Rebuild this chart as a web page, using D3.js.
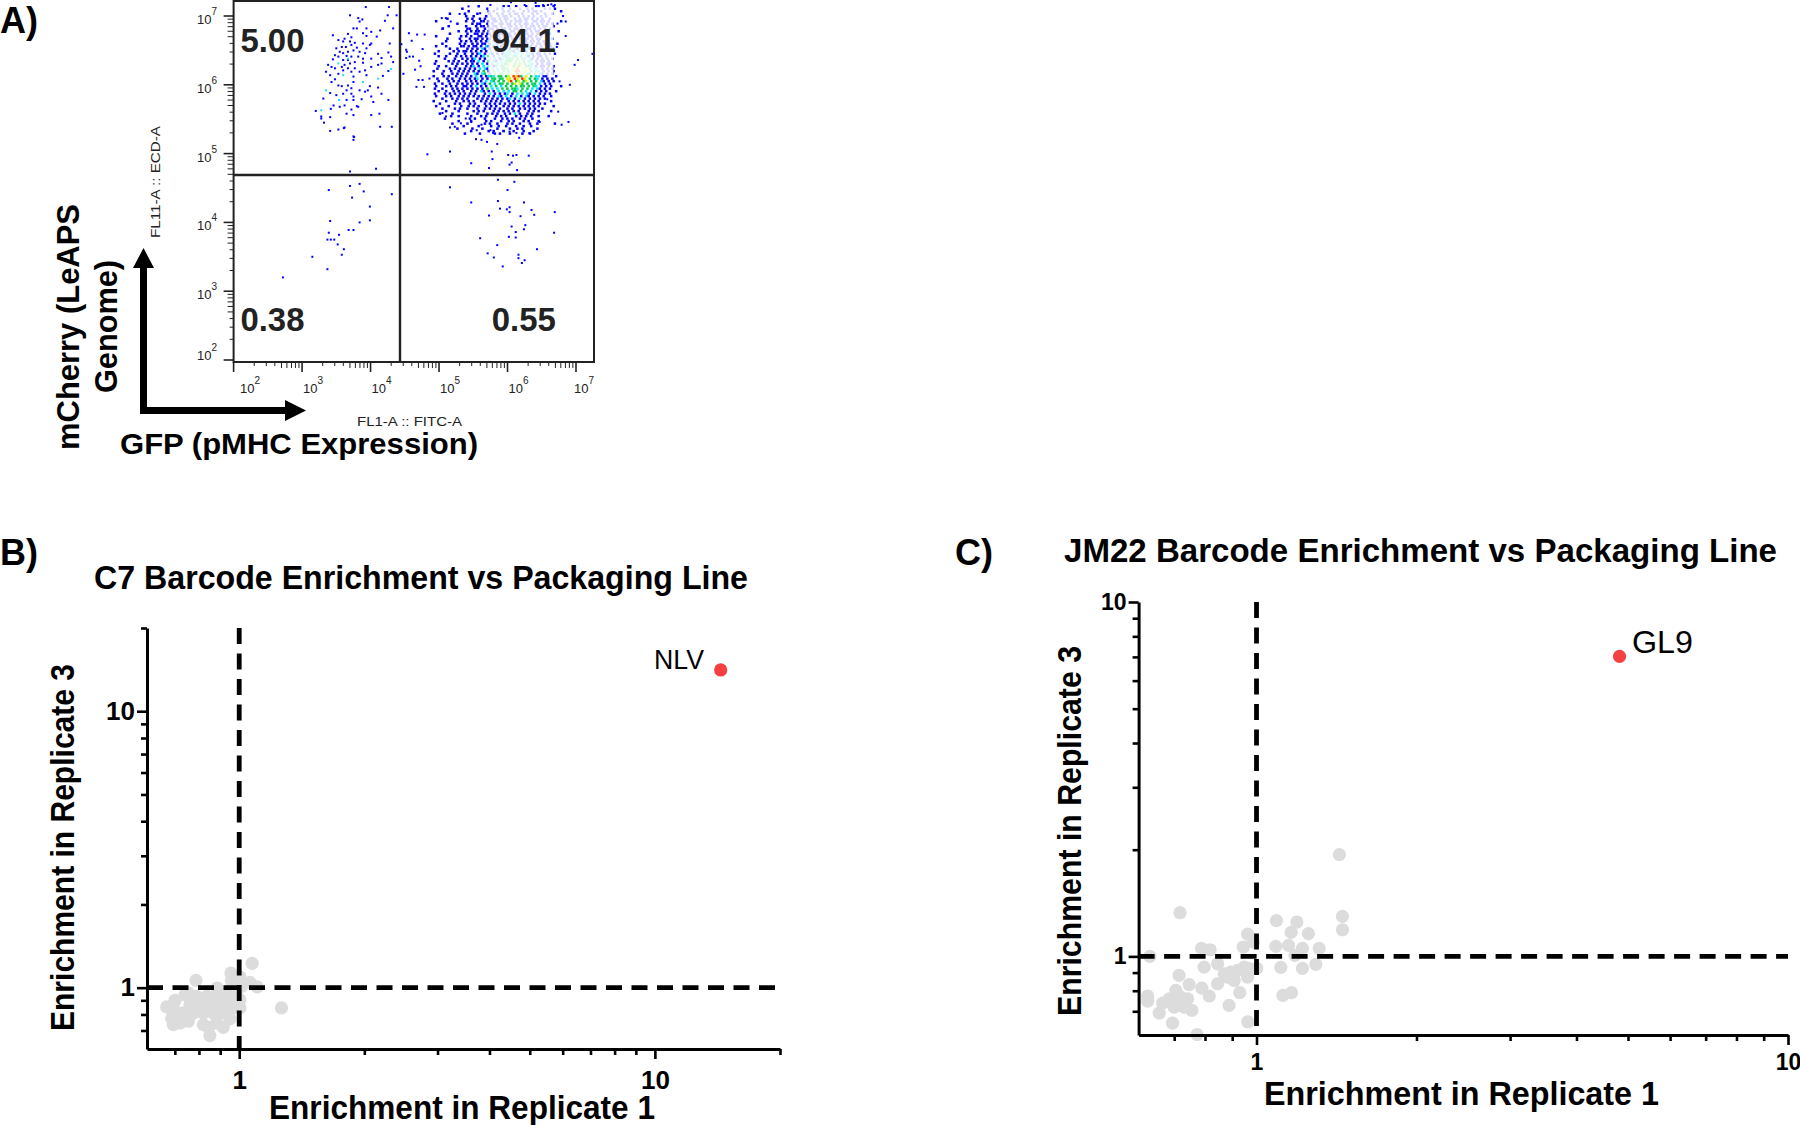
<!DOCTYPE html>
<html>
<head>
<meta charset="utf-8">
<script src="https://cdn.jsdelivr.net/npm/d3@7"></script>
<style>
    body { margin: 0; background: #fff; }
    text { font-family: "Liberation Sans", Arial, sans-serif; fill: #000; }
    .bold { font-weight: bold; }
    .cyto text { fill: #222; }
</style>
</head>
<body>
<svg id="chart" width="1800" height="1125"></svg>
<script>
// quadrant percentages of the cytometry plot
const quadLabels = [
    { text: "5.00", lx: 2.1, ly: 6.48 },
    { text: "94.1", lx: 5.77, ly: 6.48 },
    { text: "0.38", lx: 2.1, ly: 2.42 },
    { text: "0.55", lx: 5.77, ly: 2.42 },
];
const flowDecades = [2, 3, 4, 5, 6, 7];
const gateLog = [4.43, 4.69];

// dense part of the top right population, one string per row
// . empty, 1 blue, 2 cyan, 3 green, 4 yellow, 5 red
const denseRows = [
    "...................1.........1.1..1...1...11.1...1...",
    "............1.........1...1.1..1...1..1.1....1.1.1...",
    "...............1.......1.1...1.1.1...1.1.11.1.......1",
    ".......1.....1....1....1..1.1..1.11.1...1.1..1..1....",
    "..............1..1....1.1..1.11.1..1.1.1.1..1.1......",
    "......1.......1.1..1.1..11.1.11..1.1.11.1.1.1..1.....",
    "..1...........1..1..11.1.11.1.1.1.111.1..11.11.1....1",
    "..........1.....1.11..1.1..11.11.1.1.11.1.1.1.1.1....",
    ".......1......1...1.11.1.11.1..11.1.1.1.11.1.11..1...",
    "....1.........11..1..1.11.1.11.1.11.1.11.1.1.1.1.....",
    "...........1..1.1.11.1.1.11.1.2.11.11.1.1.11.1.1...1.",
    ".......1......1..11.1.11..111.11.1.12.1.1.11.1.1.....",
    "..1.........1.1.1..11.1.1.11.1.11.21.1.11.1.1.1......",
    "......1....1...1.11.1.11.1.1.21.11.1.11.1.11..1.1....",
    "......1.....1.1.1.1.1.12.1.1.121.11.2.1.11.1.1.1.....",
    "....1......1.1..1.1.11.1.21.1.1.21.1.11.1.11.1.1..1..",
    "..1...1.....11.1.11.1.21.1.21.2.1.21.1.21.1.1.1.1....",
    ".......1..1...1.1.1.21.1.1.122.1.21.1221.1.11.1.1....",
    "...1.....1.1.11.1.1.1.1.2.1.22.321.21.1.21.1.1.1.....",
    ".1.....1..1..1..1.12.1.21.1.1232.22.2.221.11.1.1.1...",
    "...1..1...1.1.1.1.1.12.3.1.2.232.33.3.21.1.11.1......",
    ".....1...1..1.1.12.1.1.2.2.12.333.3.32.21.1.1.1.1....",
    "..1....1.1.1..1.11.2.1.3.21.2.333.34.3.32.1.11.1.....",
    ".1......1.1.1.1.1.1.2.1.3.2.2334.343.3.23.1.1.11.....",
    "...1..1...1...1.12.1.2.2.13.33.4.3434.332.1.11.1.1...",
    "..1....1.1.1.1.1.1.2.21.2.2.333.445.44.3.22.1.1.1....",
    ".1...1..1..1.1.1.1.1.3.1.3.2.3.3.455.44.3.22.1.1.1...",
    "....1...1.1.1.1..21.23.1.3.33.34.45.4.33.3.21.1.1....",
    ".1...1.1..1.1.1.1.2.1.1232.33.34.5453.4.3.22.11...1..",
    "..1...1.1..1.1.1.12.1.1.33.33.44.54.54.3.32.1.1.1....",
    "...1...1.1.1..1.1.1.1.2.23.3.3.45.34.34.3.3.21.1.1...",
    ".1..1..1..1.1.1.1.1.21.3.2.33.3.34.43.3.33.2.1.1.....",
    "..1...1.1.1..11.1.2.1.1.2.3.2.3.3.3.33.3.32.1.1.1...1",
    ".1..1...1.1.1.1.1.1.1.3.2.2.3.3.332.3.3.2.21.1.1.....",
    "...1..1..1.1.1..1.1.21.1.1.2.2.2.33.3.2.2.1.1.1...1..",
    ".1...1.1.1.1.1.1.1...1.2.1.1.12.1.2.2.21.2.1.1.1.....",
    "..1...1.1..1.1.1.1.1.1.1.1.21.2.1.2.1.21.1.1.1..1....",
    "....1...1.1.1.1...1.1.1.1.1.1.12.1.2.1.1.1.1.1.......",
    ".1....1...1..1.1.1..1.1.1.1.1..1.1.1.1.1.1.1....1....",
    "...1.....1.1...1.1...1.1.1.1.1.1.1.2.1.1.1.1.1.......",
    "..1....1....1..1.1.1..1.1.1..1.1.1.1.1.1.1.1.....1...",
    "....1....1.1..1...1..1.1.1.1..1.1..1.1.1.1..1........",
    "......1....1.....1.1.1...1.1.1.1.1.1...1.1.1....1....",
    "...1....1.....1...1...1.1.1..1.1.2.1..1.1............",
    "........1..1....1...1.1...1.1.1...1.1.1.1..1...1.....",
    ".....1.........1.1...1...1..1.1.1..1.1..1............",
    "...........1....1.....1.1...1..1.1...1.1...1.........",
    "........1.....1......1.1..1...1.1..1...1..1......1...",
    ".............1.....1....1..1..1...1..1..1............",
    "..........1.....1...1.....1....1..1.1.....1..........",
    "................1......1.1...1...1...1...1...........",
    ".............1.....1.....1.1...1....1..1.............",
];
const denseOrigin = [4.867, 7.16];
const denseStep = [0.0365, 0.0363];
const densityColors = { "1": "#0000ff", "2": "#00e6ff", "3": "#00d050", "4": "#d8f000", "5": "#ff2400" };
const washedBox = [5.72, 6.67, 7.13, 6.14];

// sparse events as [log10 FL1, log10 FL11]
const topRightEvents = [
    [4.45,6.59],[4.52,6.51],[4.53,6.48],[4.56,6.75],[4.68,6.73],[4.79,6.73],[4.60,6.64],[4.76,6.52],
    [4.57,6.41],[4.62,6.41],[4.71,6.35],[4.52,6.39],[4.65,6.22],[4.73,6.27],[4.70,6.07],[4.76,6.07],[4.78,5.97],[4.86,6.09],
    [4.67,5.97],[4.48,6.16],[5.05,5.59],[5.10,5.54],[5.16,5.38],[5.23,5.39],
    [5.32,5.44],[5.39,5.51],[5.47,5.46],[5.55,5.34],[5.62,5.42],[5.54,5.21],[5.62,5.20],[5.70,5.17],[5.85,5.14],[5.79,5.30],
    [5.94,5.33],[6.03,5.32],[6.13,5.30],[5.75,5.34],[6.17,5.23],[6.32,5.30],[6.47,5.46],[6.79,5.42],[6.89,5.46],[6.74,5.61],
    [6.58,5.79],[6.91,6.00],[6.76,6.05],[7.03,6.36],[6.98,6.29],[7.24,6.45],[6.72,6.55],[6.85,6.71],[6.73,6.89],[6.81,7.00],
    [6.85,6.92],[6.64,7.17],[6.69,7.16],[4.83,4.99],[5.16,5.03],[5.47,4.86],[5.77,5.03],[6.01,4.98],[6.08,4.97],[6.13,4.98],
    [6.31,4.97],[6.06,4.87],[6.03,4.84],[5.78,4.92],[5.73,4.79],[6.14,4.76],[5.30,7.03],[5.43,7.14],[5.10,6.97],[5.04,6.97],
    [5.17,6.92],[5.06,6.82],[6.59,7.16],[6.52,7.16],[6.41,7.19],[6.25,7.16],[6.05,7.20],[5.75,7.16],[5.60,7.04],
];
const topLeftEvents = [
    [3.70,7.01],[3.82,6.97],[3.88,6.95],[3.84,6.92],[3.75,6.82],[3.94,6.82],[3.80,6.82],[4.21,6.93],[4.33,6.82],[4.25,7.01],
    [4.38,7.01],[3.45,6.72],[3.67,6.74],[3.89,6.75],[4.01,6.77],[4.14,6.79],[3.94,6.71],[4.09,6.70],[3.62,6.67],[3.72,6.69],
    [3.53,6.65],[3.60,6.63],[3.70,6.63],[3.77,6.61],[3.89,6.60],[4.01,6.60],[4.28,6.60],[3.50,6.53],[3.58,6.55],[3.64,6.55],
    [3.72,6.58],[3.80,6.54],[3.94,6.53],[3.99,6.58],[3.55,6.48],[3.60,6.46],[3.67,6.48],[3.75,6.50],[3.84,6.48],[3.92,6.46],
    [4.11,6.45],[4.26,6.47],[3.48,6.43],[3.53,6.41],[3.65,6.42],[3.72,6.41],[3.82,6.41],[3.89,6.38],[4.01,6.38],[4.16,6.39],
    [4.30,6.41],[3.45,6.37],[3.60,6.36],[3.67,6.36],[3.77,6.33],[4.16,6.31],[3.38,6.29],[3.43,6.26],[3.58,6.26],[3.70,6.31],
    [3.62,6.29],[3.89,6.32],[4.33,6.33],[3.35,6.19],[3.48,6.24],[3.60,6.21],[3.67,6.24],[3.77,6.24],[3.84,6.19],[4.01,6.26],
    [4.11,6.29],[4.26,6.20],[3.41,6.14],[3.53,6.16],[3.72,6.19],[3.92,6.21],[4.18,6.13],[3.48,6.08],[3.75,6.12],[3.53,5.99],
    [3.58,5.98],[3.67,5.99],[3.75,6.04],[3.99,5.98],[3.94,6.14],[3.43,6.04],[3.65,5.92],[3.72,5.95],[3.60,5.87],[3.72,5.87],
    [3.75,5.83],[3.41,5.88],[3.50,5.85],[3.84,5.92],[3.92,5.90],[4.11,5.96],[4.16,5.87],[3.96,5.92],[4.01,5.83],[3.31,5.80],
    [3.65,5.78],[3.75,5.78],[3.87,5.79],[4.04,5.75],[4.26,5.78],[3.46,5.70],[3.42,5.65],[3.55,5.68],[3.62,5.70],[3.80,5.69],
    [3.82,5.68],[3.72,5.64],[3.20,5.62],[3.41,5.53],[3.65,5.58],[3.75,5.56],[4.01,5.56],[4.13,5.58],[3.28,5.54],[3.28,5.51],
    [3.32,5.45],[3.41,5.33],[3.53,5.35],[3.62,5.38],[4.14,5.39],[4.31,5.39],[3.76,5.24],[3.61,5.37],[3.75,5.25],[3.75,5.20],
    [3.70,4.74],[4.08,4.78],[3.93,7.13],[4.27,7.13],
];
const topLeftCyan = [[3.53,6.31],[3.67,6.38],[3.60,6.14],[3.89,6.04],[4.11,6.09],[4.30,6.23],[3.35,5.92],[3.54,5.78],[3.28,5.63]];
const bottomLeftEvents = [
    [3.39,4.47],[3.70,4.53],[3.84,4.56],[3.73,4.36],[3.90,4.45],[4.31,4.41],[3.99,4.23],[3.41,4.02],[3.99,4.03],[3.84,4.00],
    [3.75,3.89],[3.68,3.89],[3.39,3.85],[3.37,3.75],[3.42,3.75],[3.47,3.75],[3.54,3.82],[3.52,3.68],[3.61,3.61],[3.58,3.53],
    [3.15,3.50],[3.37,3.32],[2.72,3.20],
];
const bottomRightEvents = [
    [5.16,4.51],[5.86,4.62],[6.10,4.59],[6.00,4.47],[5.47,4.29],[5.86,4.31],[6.24,4.29],[5.89,4.20],[5.99,4.19],[6.03,4.22],
    [6.03,4.15],[5.73,4.10],[6.35,4.18],[6.39,4.11],[6.69,4.15],[6.19,4.09],[6.06,3.94],[6.26,3.96],[6.24,3.90],[6.12,3.86],
    [6.02,3.79],[6.12,3.78],[6.68,3.85],[5.60,3.77],[5.85,3.67],[6.43,3.61],[5.71,3.55],[5.80,3.49],[6.16,3.53],[6.16,3.48],
    [6.25,3.45],[6.21,3.41],[5.93,3.36],
];

// enrichment scatter plots, [replicate 1, replicate 3]
const c7Others = [
    [1.074,1.224],[0.955,1.13],[1.004,1.093],[0.787,1.063],[0.958,1.063],[1.061,1.045],[1.105,1.006],[0.885,0.997],[1.013,1.011],
    [0.741,0.943],[0.701,0.9],[0.669,0.852],[1.264,0.845],[1.004,0.905],[1.004,0.845],[0.85,0.671],[0.915,0.719],[0.95,0.771],
    [0.694,0.735],[0.688,0.777],[0.72,0.745],[0.754,0.756],[0.82,0.735],[0.882,0.745],[0.79,0.93],[0.835,0.93],[0.882,0.93],
    [0.932,0.93],[0.761,0.868],[0.805,0.868],[0.85,0.868],[0.899,0.868],[0.95,0.868],[0.734,0.81],[0.776,0.81],[0.82,0.81],
    [0.866,0.81],[0.915,0.81],[0.694,0.852],[0.95,0.983],[0.985,0.93],[0.707,0.79],[0.843,0.719],[0.967,0.845],[0.754,0.958],
];
const c7Hit = { name: "NLV", x: 14.4, y: 14.1 };
const jm22Others = [
    [1.432,1.937],[1.451,1.297],[1.451,1.189],[0.718,1.328],[1.09,1.261],[1.191,1.25],[1.162,1.169],[1.252,1.159],[0.962,1.156],
    [0.987,1.098],[0.944,1.063],[0.788,1.053],[0.818,1.044],[1.087,1.067],[1.149,1.074],[1.22,1.053],[1.312,1.053],[1.181,1.007],
    [0.63,1.0],[1.293,0.949],[1.111,0.931],[1.22,0.925],[1.001,0.925],[0.797,0.933],[0.845,0.953],[0.715,0.884],[0.845,0.837],
    [0.747,0.832],[0.789,0.814],[0.705,0.802],[0.815,0.773],[0.93,0.79],[1.164,0.79],[1.121,0.776],[0.624,0.773],[0.624,0.748],
    [0.666,0.738],[0.656,0.692],[0.695,0.648],[0.756,0.704],[0.7,0.719],[0.742,0.759],[0.888,0.727],[0.963,0.654],[0.773,0.602],
    [0.882,0.874],[0.921,0.913],[0.962,0.874],[0.908,0.855],[0.869,0.893],[0.948,0.933],[0.72,0.767],[0.685,0.759],[0.731,0.719],
    [0.895,0.903],[0.969,0.923],
];
const jm22Hit = { name: "GL9", x: 4.82, y: 7.02 };

const c7XTicks = [0.7, 0.8, 0.9, 1, 2, 3, 4, 5, 6, 7, 8, 9, 10, 20];
const jm22Ticks = [0.7, 0.8, 0.9, 1, 2, 3, 4, 5, 6, 7, 8, 9, 10];
const tickLabels = [1, 10];

const svg = d3.select("#chart");

// fixed width text, the reference was stretched when it was pasted together
function addText(parent, str, x, y, size, length, opts = {}) {
    const t = parent.append("text")
        .attr("class", opts.bold === false ? null : "bold")
        .attr("font-size", size)
        .attr("transform", `translate(${x},${y})` + (opts.rotate ? " rotate(-90)" : ""))
        .text(str);
    if (length) t.attr("textLength", length).attr("lengthAdjust", "spacingAndGlyphs");
    return t;
}

function drawCytometry() {
    const g = svg.append("g").attr("class", "cyto");
    const x = d3.scaleLinear().domain([2, 7]).range([233.6, 576]);
    const y = d3.scaleLinear().domain([2, 7]).range([360, 16]);
    const [right, top] = [594, 1];

    const dots = (events, color) => g.append("g").selectAll("rect")
        .data(events).join("rect")
        .attr("x", d => x(d[0]) - 1).attr("y", d => y(d[1]) - 1)
        .attr("width", 2).attr("height", 2)
        .attr("fill", color);

    dots(topLeftEvents, "#0000ff");
    dots(topLeftCyan, "#20e0ff");
    dots(bottomLeftEvents, "#0000ff");
    dots(bottomRightEvents, "#0000ff");
    dots(topRightEvents, "#0000ff");

    // dense cells, every other row sits half a cell over so it does not read as a grid
    const cells = [];
    denseRows.forEach((row, r) => {
        row.split("").forEach((c, col) => {
            if (c !== ".") cells.push({
                lx: denseOrigin[0] + (col + (r % 2) / 2) * denseStep[0],
                ly: denseOrigin[1] - r * denseStep[1],
                level: c,
            });
        });
    });
    const cw = x(denseStep[0]) - x(0);
    const ch = y(0) - y(denseStep[1]);
    g.append("g").selectAll("rect")
        .data(cells).join("rect")
        .attr("x", d => x(d.lx)).attr("y", d => y(d.ly))
        .attr("width", cw).attr("height", ch)
        .attr("fill", d => densityColors[d.level]);

    // the percentage box washes out the events behind it
    g.append("rect")
        .attr("x", x(washedBox[0])).attr("y", y(washedBox[2]))
        .attr("width", x(washedBox[1]) - x(washedBox[0]))
        .attr("height", y(washedBox[3]) - y(washedBox[2]))
        .attr("fill", "#fff").attr("opacity", 0.84);

    g.append("rect")
        .attr("x", x(2)).attr("y", top)
        .attr("width", right - x(2)).attr("height", y(2) + 2 - top)
        .attr("fill", "none").attr("stroke", "#222").attr("stroke-width", 2);
    g.append("line").attr("x1", x(gateLog[0])).attr("x2", x(gateLog[0]))
        .attr("y1", top).attr("y2", y(2) + 2)
        .attr("stroke", "#222").attr("stroke-width", 2.4);
    g.append("line").attr("x1", x(2)).attr("x2", right)
        .attr("y1", y(gateLog[1])).attr("y2", y(gateLog[1]))
        .attr("stroke", "#222").attr("stroke-width", 2.4);

    // log ticks, 2 to 9 in every decade
    const minor = [];
    flowDecades.forEach(d => [1, 2, 3, 4, 5, 6, 7, 8, 9].forEach(m => {
        const v = d + Math.log10(m);
        if (v < 7.25) minor.push({ v, major: m === 1 });
    }));
    const minorSize = d => d.major ? 10 : (d.v % 1 > 0.65 ? 6 : 4);
    g.append("g").selectAll("line")
        .data(minor.filter(d => x(d.v) < right)).join("line")
        .attr("x1", d => x(d.v)).attr("x2", d => x(d.v))
        .attr("y1", y(2) + 2).attr("y2", d => y(2) + 2 + minorSize(d))
        .attr("stroke", "#222").attr("stroke-width", d => d.major ? 1.6 : 1);
    g.append("g").selectAll("line")
        .data(minor.filter(d => y(d.v) > top)).join("line")
        .attr("x1", x(2)).attr("x2", d => x(2) - minorSize(d))
        .attr("y1", d => y(d.v)).attr("y2", d => y(d.v))
        .attr("stroke", "#222").attr("stroke-width", d => d.major ? 1.6 : 1);

    flowDecades.forEach(d => {
        const tx = g.append("text").attr("font-size", 13)
            .attr("x", Math.min(574, Math.max(240, x(d) + 1))).attr("y", 393);
        tx.append("tspan").text("10");
        tx.append("tspan").attr("font-size", 10).attr("dy", -9).text(d);
        const ty = g.append("text").attr("font-size", 13)
            .attr("x", 197).attr("y", Math.min(y(2), y(d) + 8));
        ty.append("tspan").text("10");
        ty.append("tspan").attr("font-size", 10).attr("dy", -9).text(d);
    });

    quadLabels.forEach(q => {
        addText(g, q.text, x(q.lx), y(q.ly), 33, 64);
    });

    addText(g, "FL11-A :: ECD-A", 160, 238, 13, 112, { bold: false, rotate: true });
    addText(g, "FL1-A :: FITC-A", 357, 426, 13, 105, { bold: false });

    // axis arrows
    g.append("path").attr("fill", "#000")
        .attr("d", "M140,414V268H133L143.5,248L154,268H147V407H285V400L306,410.5L285,421V414Z");

    addText(svg, "mCherry (LeAPS", 79, 450, 31, 246, { rotate: true });
    addText(svg, "Genome)", 117, 393, 31, 133, { rotate: true });
    addText(svg, "GFP (pMHC Expression)", 120, 454, 30, 358);
}

function drawEnrichment(p) {
    const g = svg.append("g");
    const x = d3.scaleLog().domain(p.xDomain).range([p.left, p.right]);
    const y = d3.scaleLog().domain(p.yDomain).range([p.bottom, p.top]);

    g.append("g").selectAll("circle")
        .data(p.others).join("circle")
        .attr("cx", d => x(d[0])).attr("cy", d => y(d[1])).attr("r", 6.6)
        .attr("fill", "#dcdcdc");

    g.append("line").attr("x1", x(1)).attr("x2", x(1))
        .attr("y1", p.top).attr("y2", p.bottom)
        .attr("stroke", "#000").attr("stroke-width", 4.8).attr("stroke-dasharray", "16 9.5");
    g.append("line").attr("x1", p.left).attr("x2", p.right)
        .attr("y1", y(1)).attr("y2", y(1))
        .attr("stroke", "#000").attr("stroke-width", 4.8).attr("stroke-dasharray", "16 9.5");

    g.append("circle")
        .attr("cx", x(p.hit.x)).attr("cy", y(p.hit.y)).attr("r", 6.6)
        .attr("fill", "#f44040");

    const fmt = d => tickLabels.includes(d) ? d : "";
    const xAxis = g.append("g").attr("transform", `translate(0,${p.bottom})`)
        .call(d3.axisBottom(x).tickValues(p.ticks).tickFormat(fmt).tickSizeOuter(0));
    const yAxis = g.append("g").attr("transform", `translate(${p.left},0)`)
        .call(d3.axisLeft(y).tickValues(p.yTicks).tickFormat(fmt).tickSizeOuter(0));

    [xAxis, yAxis].forEach(a => {
        a.select(".domain").attr("stroke", "#000").attr("stroke-width", 3);
        a.selectAll(".tick line").attr("stroke", "#000").attr("stroke-width", 2.6);
        a.selectAll("text").attr("class", "bold").attr("font-size", p.tickFont)
            .attr("fill", "#000");
    });
    xAxis.selectAll(".tick line").attr("y2", d => tickLabels.includes(d) ? 10 : 6);
    yAxis.selectAll(".tick line").attr("x2", d => tickLabels.includes(d) ? -10 : -6);
    xAxis.selectAll(".tick text").attr("y", p.xLabelGap).attr("dy", 0)
        .style("dominant-baseline", "auto");
    yAxis.selectAll(".tick text").attr("x", -12);

    addText(svg, p.panel, p.panelX, 565, 36, null);
    addText(svg, p.title, p.titleX, p.titleY, 33, p.titleLength);
    addText(svg, "Enrichment in Replicate 1", p.xTitle[0], p.xTitle[1], 33, p.xTitle[2]);
    addText(svg, "Enrichment in Replicate 3", p.yTitle[0], p.yTitle[1], 33, p.yTitle[2], { rotate: true });
    addText(svg, p.hit.name, p.hitLabel[0], p.hitLabel[1], p.hitLabel[2], p.hitLabel[3], { bold: false });
}

drawCytometry();
addText(svg, "A)", 0, 33, 36, null);

drawEnrichment({
    panel: "B)", panelX: 0,
    title: "C7 Barcode Enrichment vs Packaging Line", titleX: 94, titleY: 589, titleLength: 654,
    others: c7Others, hit: c7Hit, hitLabel: [654, 669, 28, 50],
    xDomain: [0.6, 20], yDomain: [0.6, 20],
    left: 147, right: 780, bottom: 1049, top: 628,
    ticks: c7XTicks, yTicks: c7XTicks, tickFont: 26, xLabelGap: 40,
    xTitle: [269, 1119, 386], yTitle: [74, 1031, 367],
});

drawEnrichment({
    panel: "C)", panelX: 955,
    title: "JM22 Barcode Enrichment vs Packaging Line", titleX: 1064, titleY: 562, titleLength: 713,
    others: jm22Others, hit: jm22Hit, hitLabel: [1632, 653, 31, 61],
    xDomain: [0.6, 10], yDomain: [0.6, 10],
    left: 1138.6, right: 1788, bottom: 1035, top: 602,
    ticks: jm22Ticks, yTicks: jm22Ticks, tickFont: 23, xLabelGap: 35,
    xTitle: [1264, 1105, 395], yTitle: [1081, 1016, 370],
});
</script>
</body>
</html>
